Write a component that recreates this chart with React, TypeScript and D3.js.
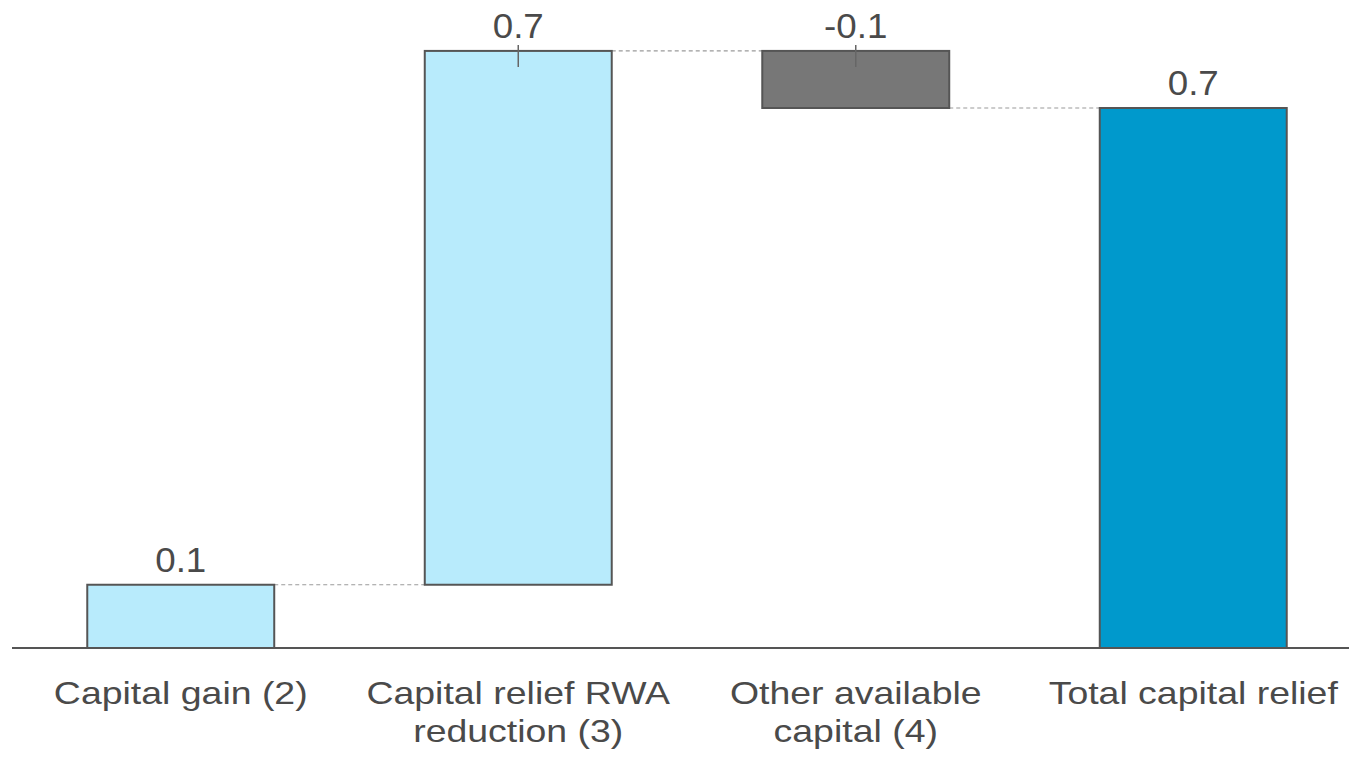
import React from "react";
import * as d3 from "d3";

const categories: string[][] = [
  ["Capital gain (2)"],
  ["Capital relief RWA", "reduction (3)"],
  ["Other available", "capital (4)"],
  ["Total capital relief"],
];
const values: number[] = [0.082, 0.692, -0.074, 0.7];
const labels: string[] = ["0.1", "0.7", "-0.1", "0.7"];
const kinds: string[] = ["up", "up", "down", "total"];

const W = 1349;
const H = 761;

export default function App() {
  const x = d3
    .scaleBand<number>()
    .domain(d3.range(categories.length))
    .range([12, 1362])
    .paddingInner(0.446)
    .paddingOuter(0.223);
  const y = d3.scaleLinear().domain([0, 0.7]).range([648, 108]);

  let run = 0;
  const bars = values.map((v, i) => {
    let start: number, end: number;
    if (kinds[i] === "total") {
      start = 0;
      end = v;
    } else {
      start = run;
      end = run + v;
    }
    run = kinds[i] === "total" ? v : end;
    return { i, start, end, top: Math.max(start, end), bottom: Math.min(start, end) };
  });

  const fill = (k: string) =>
    k === "up" ? "#B8EBFC" : k === "down" ? "#777777" : "#0099CC";

  const bw = x.bandwidth();
  const textColor = "#4a4a4a";

  return (
    <svg
      width={W}
      height={H}
      style={{ position: "absolute", left: 0, top: 0, background: "#fff" }}
      fontFamily="'Liberation Sans', Arial, sans-serif"
    >
      {bars.slice(0, -1).map((b, i) => {
        const level = b.end;
        const x1 = (x(i) as number) + bw;
        const x2 = x(i + 1) as number;
        return (
          <line
            key={"c" + i}
            x1={x1}
            x2={x2}
            y1={y(level)}
            y2={y(level)}
            stroke="#9a9a9a"
            strokeWidth={1.2}
            strokeDasharray="4,3"
          />
        );
      })}
      {bars.map((b) => (
        <rect
          key={"b" + b.i}
          x={x(b.i) as number}
          y={y(b.top)}
          width={bw}
          height={y(b.bottom) - y(b.top)}
          fill={fill(kinds[b.i])}
          stroke="#555555"
          strokeWidth={2}
        />
      ))}
      {bars.map((b) =>
        kinds[b.i] !== "total" && b.i > 0 ? (
          <line
            key={"t" + b.i}
            x1={(x(b.i) as number) + bw / 2}
            x2={(x(b.i) as number) + bw / 2}
            y1={y(b.top) - 6}
            y2={y(b.top) + 16}
            stroke="#666666"
            strokeWidth={1.5}
          />
        ) : null
      )}
      <line x1={12} x2={W} y1={y(0)} y2={y(0)} stroke="#555555" strokeWidth={2} />
      {bars.map((b) => {
        const cx = (x(b.i) as number) + bw / 2;
        const ty = y(b.top) - 13;
        return (
          <text
            key={"v" + b.i}
            transform={`translate(${cx},${ty}) scale(1.05,1)`}
            textAnchor="middle"
            fontSize={35}
            fill={textColor}
          >
            {labels[b.i]}
          </text>
        );
      })}
      {categories.map((lines, i) => {
        const cx = (x(i) as number) + bw / 2;
        return lines.map((ln, j) => (
          <text
            key={"k" + i + "-" + j}
            transform={`translate(${cx},${704 + j * 38}) scale(1.17,1)`}
            textAnchor="middle"
            fontSize={32}
            fill={textColor}
          >
            {ln}
          </text>
        ));
      })}
    </svg>
  );
}
